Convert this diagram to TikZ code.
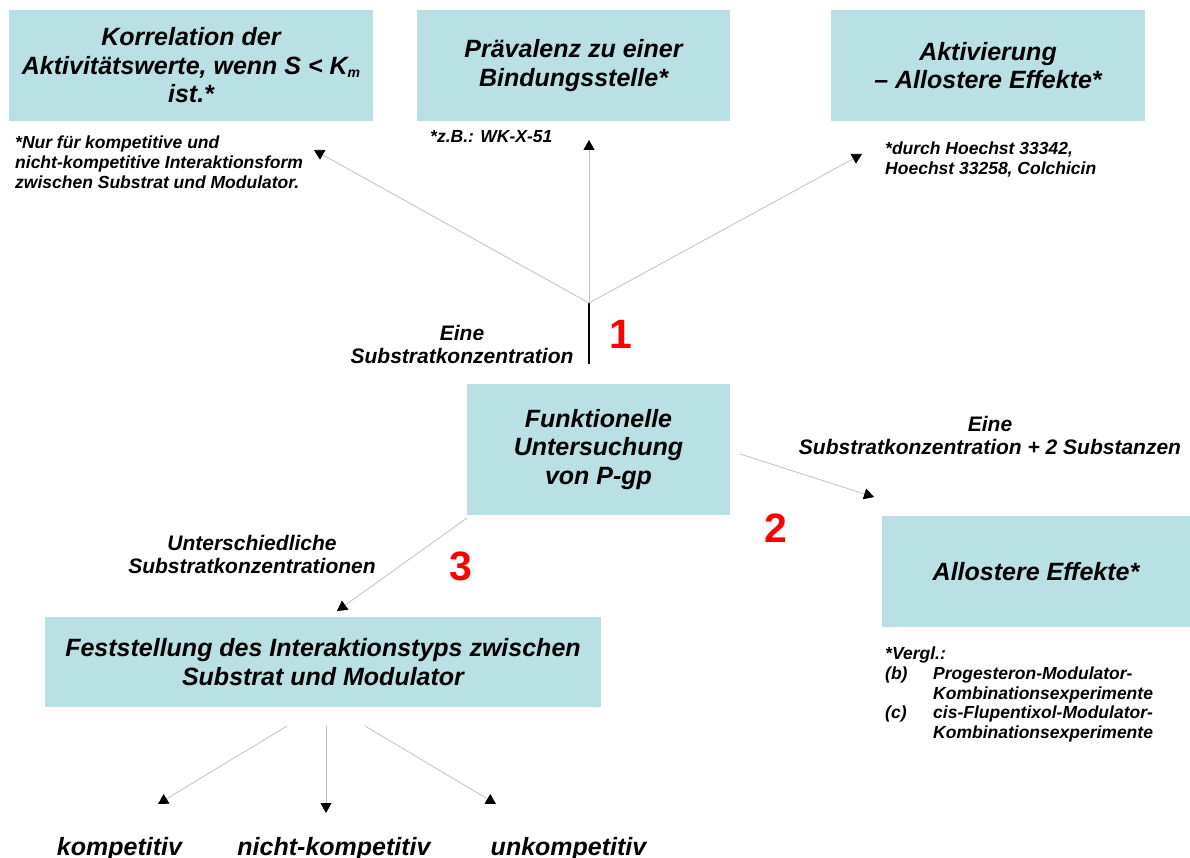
\documentclass[tikz,border=0pt]{standalone}
\usepackage{fontspec}
\setmainfont{Liberation Sans}
\usetikzlibrary{arrows.meta}
\definecolor{boxfill}{HTML}{B9E0E2}
\definecolor{linkgrey}{HTML}{BEBEBE}
\definecolor{numred}{HTML}{FF0000}

\begin{document}
\begin{tikzpicture}[x=1pt,y=-1pt,
  box/.style={fill=boxfill, inner sep=0pt, align=center,
    font=\fontsize{25}{28.5}\selectfont\bfseries\itshape},
  note/.style={inner sep=0pt, align=left,
    font=\fontsize{17.5}{19.6}\selectfont\bfseries\itshape},
  lbl/.style={inner sep=0pt, align=center,
    font=\fontsize{21}{23}\selectfont\bfseries\itshape},
  num/.style={inner sep=0pt, anchor=base, text=numred,
    font=\fontsize{41}{41}\selectfont\bfseries},
  kind/.style={inner sep=0pt, anchor=base,
    font=\fontsize{25}{28}\selectfont\bfseries\itshape},
  link/.style={draw=linkgrey, line width=0.75pt,
    -{Triangle[length=10pt,width=11pt,color=black]}},
  stem/.style={draw=black, line width=2pt}
]
\useasboundingbox (0,0) rectangle (1190,858);

% --- top row: three outcomes of a single substrate concentration
\node[box, minimum width=364pt, minimum height=111pt] (korr) at (191,65.5)
  {Korrelation der\\Aktivitätswerte, wenn S < K\raisebox{-3pt}{\fontsize{14}{14}\selectfont m}\\ist.*};
\node[box, minimum width=313pt, minimum height=111pt] (praev) at (573.5,65.5)
  {Prävalenz zu einer\\Bindungsstelle*};
\node[box, minimum width=314pt, minimum height=111pt] (aktiv) at (988,65.5)
  {Aktivierung\\– Allostere Effekte*};

\node[note, anchor=north west] (nkorr) at (15,136)
  {*Nur für kompetitive und\\nicht-kompetitive Interaktionsform\\zwischen Substrat und Modulator.};
\node[note, anchor=base west] (npraev) at (430,143) {*z.B.: WK-X-51};
\node[note, anchor=north west] (naktiv) at (885,142)
  {*durch Hoechst 33342,\\Hoechst 33258, Colchicin};

% --- central box
\node[box, minimum width=263pt, minimum height=131pt] (pgp) at (598.5,449.5)
  {Funktionelle\\Untersuchung\\von P-gp};

% --- path 1: one substrate concentration
\coordinate (fork) at (589,303);
\coordinate (forkfoot) at (589,364);
\coordinate (tipkorr) at (314,150);
\coordinate (tippraev) at (589,140);
\coordinate (tipaktiv) at (862,154);
\draw[stem] (forkfoot) -- (fork);
\draw[link] (fork) -- (tipkorr);
\draw[link] (fork) -- (tippraev);
\draw[link] (fork) -- (tipaktiv);
\node[lbl, anchor=north] (lbl1) at (462,325) {Eine\\Substratkonzentration};
\node[num] (num1) at (621,348) {1};

% --- path 2: substrate plus two substances
\node[box, minimum width=308pt, minimum height=111pt] (allo) at (1036,571.5)
  {Allostere Effekte*};
\coordinate (from2) at (740,454);
\coordinate (tip2) at (874,497);
\draw[link] (from2) -- (tip2);
\node[lbl, anchor=north] (lbl2) at (990,416)
  {Eine\\Substratkonzentration + 2 Substanzen};
\node[num] (num2) at (776,542) {2};
\node[note, anchor=north west] (nallo) at (885,647)
  {*Vergl.:\\
   \makebox[48pt][l]{(b)}Progesteron-Modulator-\\
   \hspace*{48pt}Kombinationsexperimente\\
   \makebox[48pt][l]{(c)}cis-Flupentixol-Modulator-\\
   \hspace*{48pt}Kombinationsexperimente};

% --- path 3: varying substrate concentrations
\node[box, minimum width=556pt, minimum height=90pt] (typ) at (323,662)
  {Feststellung des Interaktionstyps zwischen\\Substrat und Modulator};
\coordinate (from3) at (467,518);
\coordinate (tip3) at (337,611);
\draw[link] (from3) -- (tip3);
\node[lbl, anchor=north] (lbl3) at (252,535)
  {Unterschiedliche\\Substratkonzentrationen};
\node[num] (num3) at (461,580) {3};

% --- interaction types
\node[kind] (komp) at (119.5,855) {kompetitiv};
\node[kind] (nkomp) at (334,855) {nicht-kompetitiv};
\node[kind] (ukomp) at (568.5,855) {unkompetitiv};
\coordinate (fromk) at (287,726);
\coordinate (fromn) at (326,726);
\coordinate (fromu) at (365,726);
\coordinate (tipk) at (158,804);
\coordinate (tipn) at (326,813);
\coordinate (tipu) at (496,804);
\draw[link] (fromk) -- (tipk);
\draw[link] (fromn) -- (tipn);
\draw[link] (fromu) -- (tipu);
\end{tikzpicture}
\end{document}
